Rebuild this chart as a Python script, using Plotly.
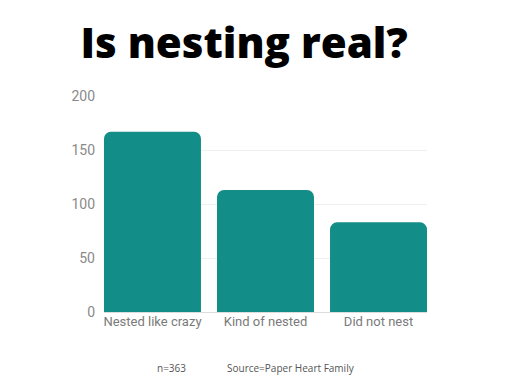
import plotly.graph_objects as go

categories = ["Nested like crazy", "Kind of nested", "Did not nest"]
values = [167, 113, 83]
y_ticks = [0, 50, 100, 150, 200]
title_text = "Is nesting real?"
note_n = "n=363"
note_source = "Source=Paper Heart Family"

fig = go.Figure(go.Bar(
    x=categories, y=values,
    marker=dict(color="#138d87", line=dict(width=0)),
    width=0.858,
))

fig.update_layout(
    width=512, height=384,
    margin=dict(l=96, r=93, t=88, b=80),
    paper_bgcolor="white", plot_bgcolor="white",
    barcornerradius=7,
    showlegend=False,
    title=dict(text=title_text, x=0.461, xanchor="center", y=0.908, yanchor="middle",
               font=dict(family="Open Sans", size=42, color="black", weight=800)),
    xaxis=dict(range=[-0.429, 2.429], showgrid=False, showline=False, ticks="",
               automargin=False,
               tickfont=dict(family="Roboto", size=13, color="#7a7a7a")),
    yaxis=dict(range=[0, 200], tickvals=y_ticks, showgrid=True, gridcolor="#efefef",
               zeroline=True, zerolinecolor="#dcdcdc", zerolinewidth=1,
               ticks="", ticklabelstandoff=8, automargin=False,
               tickfont=dict(family="Roboto", size=14, color="#8a8a8a")),
    annotations=[
        dict(text=note_n, x=0.2105, y=-0.259, xref="paper", yref="paper",
             xanchor="center", yanchor="middle", showarrow=False,
             font=dict(family="Open Sans", size=10, color="#555")),
        dict(text=note_source, x=0.579, y=-0.259, xref="paper", yref="paper",
             xanchor="center", yanchor="middle", showarrow=False,
             font=dict(family="Open Sans", size=10, color="#555")),
    ],
)

fig.write_html("out.html")
